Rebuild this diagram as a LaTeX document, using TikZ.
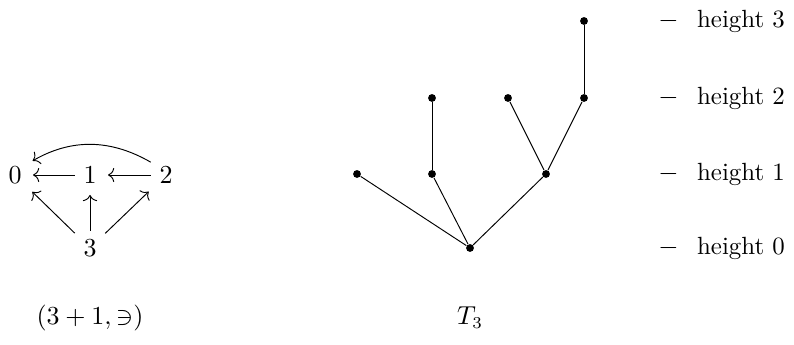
\documentclass[tikz,border=0pt]{standalone}
\usepackage{amssymb}
\usetikzlibrary{arrows.meta}
\begin{document}
\begin{tikzpicture}[x=0.4219pt,y=-0.4219pt,
  every node/.style={font=\fontsize{10.5}{12.6}\selectfont},
  obj/.style={inner sep=3.5pt},
  arr/.style={-{Computer Modern Rightarrow[length=2.6pt,width=6pt]},shorten >=1.2pt},
  dot/.style={circle,fill=black,inner sep=0pt,minimum size=3.3pt},
  hlab/.style={anchor=base west,inner sep=0pt}]
\useasboundingbox (0,0) rectangle (794,345);
% left diagram
\node[obj] (n0) at (15,175) {$0$};
\node[obj] (n1) at (90,175) {$1$};
\node[obj] (n2) at (166,175) {$2$};
\node[obj] (n3) at (90,248) {$3$};
\draw[arr] (n1) -- (n0);
\draw[arr] (n2) -- (n1);
\draw[arr] (n3) -- (n0);
\draw[arr] (n3) -- (n1);
\draw[arr] (n3) -- (n2);
\draw[arr] (n2.140) to[bend right=30] (n0.40);
\node (lab1) at (90,318) {$(3+1,\ni)$};
% tree
\node[dot] (r) at (470,248) {};
\node[dot] (a) at (357,174) {};
\node[dot] (b) at (432,174) {};
\node[dot] (c) at (546,174) {};
\node[dot] (b1) at (432,98) {};
\node[dot] (c1) at (508,98) {};
\node[dot] (c2) at (584,98) {};
\node[dot] (c3) at (584,21) {};
\draw (r) -- (a);
\draw (r) -- (b);
\draw (r) -- (c);
\draw (b) -- (b1);
\draw (c) -- (c1);
\draw (c) -- (c2);
\draw (c2) -- (c3);
\node (lab2) at (470,318) {$T_3$};
% height labels
\node[hlab] (h3) at (658,28) {$-$\hspace{7.8pt}height 3};
\node[hlab] (h2) at (658,105) {$-$\hspace{7.8pt}height 2};
\node[hlab] (h1) at (658,181) {$-$\hspace{7.8pt}height 1};
\node[hlab] (h0) at (658,255) {$-$\hspace{7.8pt}height 0};
\end{tikzpicture}
\end{document}
